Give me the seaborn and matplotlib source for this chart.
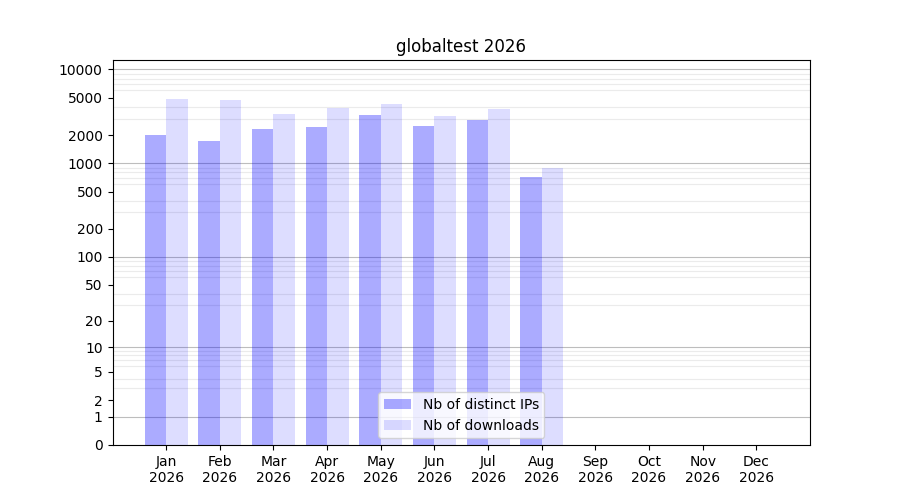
import numpy as np
import pandas as pd
import seaborn as sns
import matplotlib.pyplot as plt
from matplotlib.ticker import FixedLocator, FixedFormatter

# ============================================
# DATA
# ============================================

year = 2026
months = ["Jan", "Feb", "Mar", "Apr", "May", "Jun",
          "Jul", "Aug", "Sep", "Oct", "Nov", "Dec"]
distinct_ips = [2000, 1730, 2320, 2430, 3270, 2490, 2890, 714]
downloads = [4870, 4750, 3350, 3880, 4280, 3190, 3790, 890]
series_names = ["Nb of distinct IPs", "Nb of downloads"]
y_ticks = [0, 1, 2, 5, 10, 20, 50, 100, 200, 500, 1000, 2000, 5000, 10000]

df = pd.DataFrame({
    "month": months[:len(distinct_ips)] * 2,
    "value": distinct_ips + downloads,
    "series": [series_names[0]] * len(distinct_ips)
    + [series_names[1]] * len(downloads),
})

# ============================================
# PLOT
# ============================================

fig, ax = plt.subplots(figsize=(9, 5), dpi=100)

sns.barplot(
    data=df,
    x="month",
    y="value",
    hue="series",
    order=months,
    hue_order=series_names,
    palette=["blue", "blue"],
    saturation=1,
    errorbar=None,
    legend=False,
    ax=ax,
)

for container, alpha in zip(ax.containers, [0.33, 0.133]):
    for bar in container:
        bar.set_alpha(alpha)
        bar.set_edgecolor("none")

# log(1 + y) scale
ax.set_yscale(
    "function",
    functions=(lambda y: np.log10(1 + np.maximum(y, 0)),
               lambda y: 10 ** y - 1),
)
ax.set_ylim(0, 12600)
ax.set_xlim(-1, len(months))

ax.yaxis.set_major_locator(FixedLocator(y_ticks))
ax.yaxis.set_major_formatter(FixedFormatter([str(t) for t in y_ticks]))
minor = [m * 10 ** k for k in range(0, 4) for m in range(1, 10)] + [10000]
ax.yaxis.set_minor_locator(FixedLocator(minor))
ax.tick_params(axis="y", which="minor", length=0)
ax.yaxis.grid(True, which="minor", color="#ebebeb", linewidth=0.8)
ax.yaxis.grid(False, which="major")
for k in range(0, 5):
    ax.axhline(10 ** k, color="#bdbdbd", linewidth=0.8, zorder=0.5)
ax.set_axisbelow(True)

ax.set_xticks(range(len(months)))
ax.set_xticklabels([f"{m}\n{year}" for m in months])
ax.set_xlabel("")
ax.set_ylabel("")
ax.set_title(f"globaltest {year}")

ax.legend(ax.containers, series_names, loc="lower center")

plt.savefig("out.png", dpi=100)
